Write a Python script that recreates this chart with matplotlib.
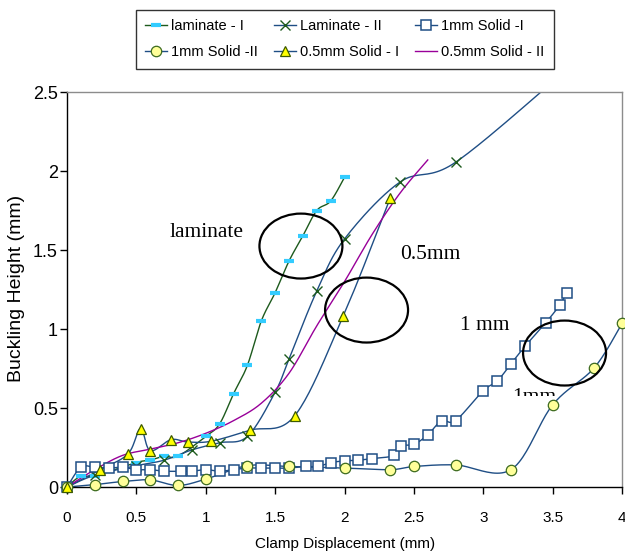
import numpy as np
import matplotlib
matplotlib.use("Agg")
from matplotlib import pyplot as plt
from matplotlib.patches import Ellipse
from matplotlib.transforms import Bbox, TransformedBbox

# measured buckling heights (mm) against clamp displacement (mm)
lam1_x = [0, 0.1, 0.2, 0.5, 0.6, 0.7, 0.8, 1.0, 1.1, 1.2, 1.3, 1.4, 1.5, 1.6, 1.7, 1.8, 1.9, 2.0]
lam1_y = [0, 0.07, 0.07, 0.155, 0.17, 0.195, 0.195, 0.32, 0.4, 0.59, 0.77, 1.05, 1.23, 1.43, 1.59, 1.75, 1.81, 1.96]

lam2_x = [0, 0.2, 0.5, 0.7, 0.9, 1.1, 1.3, 1.5, 1.6, 1.8, 2.0, 2.4, 2.8, 3.6]
lam2_y = [0, 0.075, 0.135, 0.17, 0.235, 0.28, 0.32, 0.6, 0.81, 1.24, 1.57, 1.93, 2.055, 2.64]

sol1_x = [0, 0.1, 0.2, 0.3, 0.4, 0.5, 0.6, 0.7, 0.82, 0.9, 1.0, 1.1, 1.2, 1.3, 1.4, 1.5, 1.6, 1.72,
          1.81, 1.9, 2.0, 2.1, 2.2, 2.36, 2.41, 2.5, 2.6, 2.7, 2.8, 3.0, 3.1, 3.2, 3.3, 3.45, 3.55, 3.6]
sol1_y = [0, 0.125, 0.125, 0.12, 0.125, 0.11, 0.11, 0.1, 0.1, 0.1, 0.11, 0.1, 0.11, 0.12, 0.12, 0.12, 0.12, 0.13,
          0.13, 0.155, 0.165, 0.17, 0.18, 0.2, 0.26, 0.27, 0.33, 0.42, 0.42, 0.61, 0.67, 0.78, 0.89, 1.04, 1.15, 1.23]

sol2_x = [0, 0.2, 0.4, 0.6, 0.8, 1.0, 1.3, 1.6, 2.0, 2.33, 2.5, 2.8, 3.2, 3.5, 3.8, 4.0]
sol2_y = [0, 0.015, 0.035, 0.045, 0.01, 0.05, 0.135, 0.13, 0.12, 0.11, 0.13, 0.14, 0.11, 0.52, 0.755, 1.035]

half1_x = [0, 0.24, 0.44, 0.53, 0.6, 0.75, 0.87, 1.04, 1.32, 1.64, 1.99, 2.33]
half1_y = [0, 0.11, 0.21, 0.37, 0.23, 0.3, 0.285, 0.29, 0.36, 0.45, 1.08, 1.83]

half2_x = [0, 0.2, 0.4, 0.6, 0.8, 1.0, 1.2, 1.4, 1.6, 1.8, 2.0, 2.2, 2.4, 2.6]
half2_y = [0, 0.11, 0.2, 0.24, 0.28, 0.34, 0.42, 0.53, 0.72, 1.02, 1.3, 1.6, 1.86, 2.07]

x_ticks = [0, 0.5, 1, 1.5, 2, 2.5, 3, 3.5, 4]
x_tick_labels = ["0", "0.5", "1", "1.5", "2", "2.5", "3", "3.5", "4"]
y_ticks = [0, 0.5, 1, 1.5, 2, 2.5]
y_tick_labels = ["0", "0.5", "1", "1.5", "2", "2.5"]

SANS = ["Liberation Sans"]
SERIF = ["Liberation Serif"]

BLUE = "#1f4e85"
GREEN = "#1d5a1d"
YMAX = 2.5


def smooth(x, y, n=24):
    # cubic bezier through every point, tangents from the neighbours
    p = np.column_stack([x, y]).astype(float)
    p = np.vstack([p[0], p, p[-1]])
    t = np.linspace(0, 1, n)[:, None]
    parts = []
    for i in range(1, len(p) - 2):
        p0, p1, p2, p3 = p[i - 1], p[i], p[i + 1], p[i + 2]
        c1 = p1 + (p2 - p0) / 6
        c2 = p2 - (p3 - p1) / 6
        seg = (1 - t) ** 3 * p1 + 3 * (1 - t) ** 2 * t * c1 + 3 * (1 - t) * t ** 2 * c2 + t ** 3 * p2
        parts.append(seg if i == 1 else seg[1:])
    s = np.vstack(parts)
    return s[:, 0], s[:, 1]


fig = plt.figure(figsize=(6.25, 5.53), dpi=100)
ax = fig.add_axes([0.1072, 0.1193, 0.888, 0.7143])

series = [
    # x, y, line colour, marker, marker kwargs, label
    (lam1_x, lam1_y, GREEN, "_", dict(mec="#33ccff", mew=3, ms=7), "laminate - I"),
    (lam2_x, lam2_y, BLUE, "x", dict(mec=GREEN, mew=1, ms=7), "Laminate - II"),
    (sol1_x, sol1_y, BLUE, "s", dict(mfc="white", mec=BLUE, mew=1.1, ms=7), "1mm Solid -I"),
    (sol2_x, sol2_y, BLUE, "o", dict(mfc="#ffff99", mec="#3d6b1f", mew=0.9, ms=7.5), "1mm Solid -II"),
    (half1_x, half1_y, BLUE, "^", dict(mfc="#ffff00", mec="#3d5a00", mew=0.9, ms=7.5), "0.5mm Solid - I"),
    (half2_x, half2_y, "#990099", None, {}, "0.5mm Solid - II"),
]

handles = []
for x, y, col, mk, mkw, lab in series:
    sx, sy = smooth(x, y)
    ax.plot(sx, sy, color=col, lw=1.0, zorder=2)
    if mk is not None:
        xa, ya = np.asarray(x), np.asarray(y)
        inside = ya <= YMAX
        ax.plot(xa[inside], ya[inside], ls="none", marker=mk, zorder=3, clip_on=False, **mkw)
    h, = ax.plot([], [], color=col, lw=1.0, marker=mk, **mkw, label=lab)
    handles.append(h)

# circled regions and their labels
for cx, cy in [(1.686, 1.525), (2.159, 1.12), (3.586, 0.848)]:
    ax.add_patch(Ellipse((cx, cy), 0.598, 0.411, fill=False, ec="black", lw=1.6, zorder=4))

ax.text(0.74, 1.61, "laminate", family=SERIF, fontsize=15.5, ha="left", va="center")
ax.text(2.40, 1.47, "0.5mm", family=SERIF, fontsize=15.5, ha="left", va="center")
ax.text(2.83, 1.025, "1 mm", family=SERIF, fontsize=15.5, ha="left", va="center")
# this label sits half hidden, only its upper part shows
hidden = ax.text(3.21, 0.54, "1mm", family=SERIF, fontsize=15.5, ha="left", va="baseline",
                 clip_on=True)
hidden.set_clip_box(TransformedBbox(Bbox([[3.1, 0.575], [3.7, 0.9]]), ax.transData))

ax.set_xlim(0, 4)
ax.set_ylim(0, YMAX)
ax.set_xticks(x_ticks)
ax.set_xticklabels(x_tick_labels, family=SANS, fontsize=11)
ax.set_yticks(y_ticks)
ax.set_yticklabels(y_tick_labels, family=SANS, fontsize=13)
ax.tick_params(direction="out", length=5, width=1, color="black")
ax.tick_params(axis="x", pad=12.5)
ax.tick_params(axis="y", pad=1.5)

for side in ["left", "bottom"]:
    ax.spines[side].set_color("black")
    ax.spines[side].set_linewidth(1.0)
for side in ["top", "right"]:
    ax.spines[side].set_color("#8c8c8c")
    ax.spines[side].set_linewidth(1.0)

fig.text(345 / 625, 1 - 548 / 553, "Clamp Displacement (mm)", family=SANS, fontsize=11,
         ha="center", va="baseline")
fig.text(17 / 625, 1 - 288.5 / 553, "Buckling Height (mm)", family=SANS, fontsize=14,
         rotation=90, ha="center", va="center")

order = [0, 3, 1, 4, 2, 5]
leg = fig.legend([handles[i] for i in order], [series[i][5] for i in order],
                 ncol=3, loc="upper left", bbox_to_anchor=(136 / 625, 1 - 10 / 553),
                 prop=dict(family=SANS, size=10.5), frameon=True, fancybox=False,
                 edgecolor="black", handlelength=1.5, handletextpad=0.27,
                 columnspacing=1.1, borderpad=0.65, labelspacing=0.8, borderaxespad=0)
leg.get_frame().set_linewidth(1.0)

plt.savefig("out.png", dpi=100)
